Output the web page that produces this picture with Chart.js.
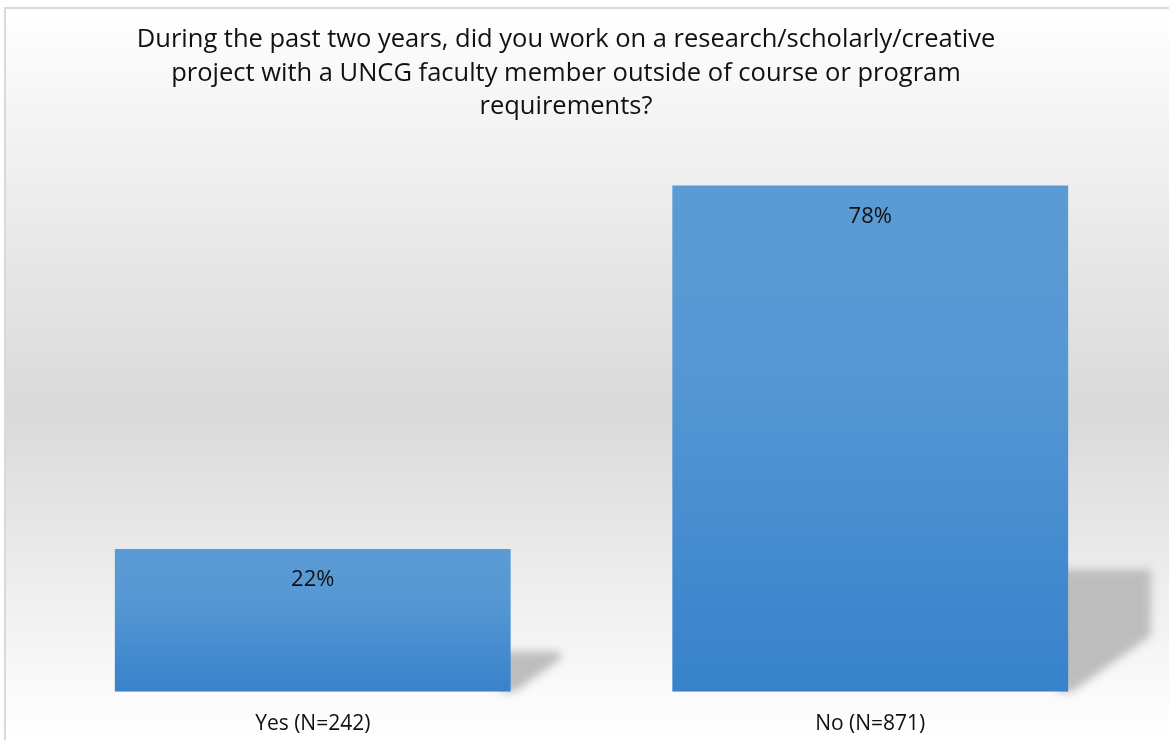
<!DOCTYPE html>
<html>
<head>
<meta charset="utf-8">
<script src="https://cdn.jsdelivr.net/npm/chart.js@4.4.1/dist/chart.umd.min.js"></script>
<style>
    html, body { margin: 0; padding: 0; background: #fff; }
    #wrap { width: 1169px; height: 740px; }
</style>
</head>
<body>
<div id="wrap"><canvas id="chart" width="1169" height="740"></canvas></div>
<script>
// datos
const categories = ['Yes (N=242)', 'No (N=871)'];
const percentages = [22, 78];
const titleLines = [
    'During the past two years, did you work on a research/scholarly/creative',
    'project with a UNCG faculty member outside of course or program',
    'requirements?'
];

const FONT = '"Open Sans", "DejaVu Sans", sans-serif';

// fondo con degradado y borde gris
const backgroundPlugin = {
    id: 'background',
    beforeDraw(chart) {
        const ctx = chart.ctx;
        const w = chart.width, h = chart.height;
        ctx.save();
        const g = ctx.createLinearGradient(0, 8, 0, h);
        g.addColorStop(0, '#ffffff');
        g.addColorStop(0.18, '#f2f2f2');
        g.addColorStop(0.55, '#d9d9d9');
        g.addColorStop(0.93, '#fafafa');
        g.addColorStop(1, '#ffffff');
        ctx.fillStyle = '#ffffff';
        ctx.fillRect(0, 0, w, h);
        ctx.fillStyle = g;
        ctx.fillRect(5, 8, w, h);
        ctx.strokeStyle = '#d9d9d9';
        ctx.lineWidth = 2;
        ctx.beginPath();
        ctx.moveTo(5, h + 2);
        ctx.lineTo(5, 8);
        ctx.lineTo(w + 2, 8);
        ctx.stroke();

        // titulo
        ctx.fillStyle = '#111';
        ctx.font = '25.5px ' + FONT;
        ctx.textAlign = 'center';
        ctx.textBaseline = 'middle';
        titleLines.forEach((line, i) => {
            ctx.fillText(line, 566, 40 + i * 33.5);
        });
        ctx.restore();
    }
};

// sombra en perspectiva detras de cada barra
const shadowPlugin = {
    id: 'barShadow',
    beforeDatasetsDraw(chart) {
        const ctx = chart.ctx;
        const meta = chart.getDatasetMeta(0);
        ctx.save();
        ctx.filter = 'blur(4px)';
        ctx.fillStyle = '#bdbdbd';
        meta.data.forEach(bar => {
            const right = bar.x + bar.width / 2;
            const hgt = bar.base - bar.y;
            const sh = 0.226 * hgt + 8;
            const ext = 0.09 * hgt + 37;
            const top = bar.base - sh;
            const diag = (ext - 4) / 1.4;
            ctx.beginPath();
            ctx.moveTo(right - 10, top);
            ctx.lineTo(right + ext, top);
            ctx.lineTo(right + ext, Math.max(top, bar.base - diag));
            ctx.lineTo(right + 4, bar.base);
            ctx.lineTo(right - 10, bar.base);
            ctx.closePath();
            ctx.fill();
        });
        ctx.restore();
    }
};

// etiquetas de porcentaje dentro de las barras
const labelPlugin = {
    id: 'barLabels',
    afterDatasetsDraw(chart) {
        const ctx = chart.ctx;
        const meta = chart.getDatasetMeta(0);
        ctx.save();
        ctx.fillStyle = '#111';
        ctx.font = '22px ' + FONT;
        ctx.textAlign = 'center';
        ctx.textBaseline = 'middle';
        meta.data.forEach((bar, i) => {
            ctx.fillText(percentages[i] + '%', bar.x, bar.y + 31);
        });
        ctx.restore();
    }
};

function barGradient(context) {
    const chart = context.chart;
    if (!chart.chartArea) return '#4a8fd2';
    const yScale = chart.scales.y;
    const top = yScale.getPixelForValue(percentages[context.dataIndex]);
    const base = yScale.getPixelForValue(0);
    const g = chart.ctx.createLinearGradient(0, top, 0, base);
    g.addColorStop(0, '#5b9bd5');
    g.addColorStop(0.35, '#5698d4');
    g.addColorStop(1, '#3782cb');
    return g;
}

new Chart(document.getElementById('chart'), {
    type: 'bar',
    data: {
        labels: categories,
        datasets: [{
            data: percentages,
            backgroundColor: barGradient,
            borderWidth: 0,
            barPercentage: 0.71,
            categoryPercentage: 1
        }]
    },
    options: {
        responsive: false,
        animation: false,
        events: [],
        layout: { padding: { left: 34, right: 20, top: 140, bottom: -17 } },
        scales: {
            x: {
                grid: { display: false, drawTicks: false },
                border: { display: false },
                ticks: {
                    color: '#111',
                    font: { family: FONT, size: 21 },
                    padding: 20
                }
            },
            y: {
                display: false,
                min: 0,
                max: 85
            }
        },
        plugins: {
            legend: { display: false },
            tooltip: { enabled: false },
            title: { display: false }
        }
    },
    plugins: [backgroundPlugin, shadowPlugin, labelPlugin]
});
</script>
</body>
</html>
